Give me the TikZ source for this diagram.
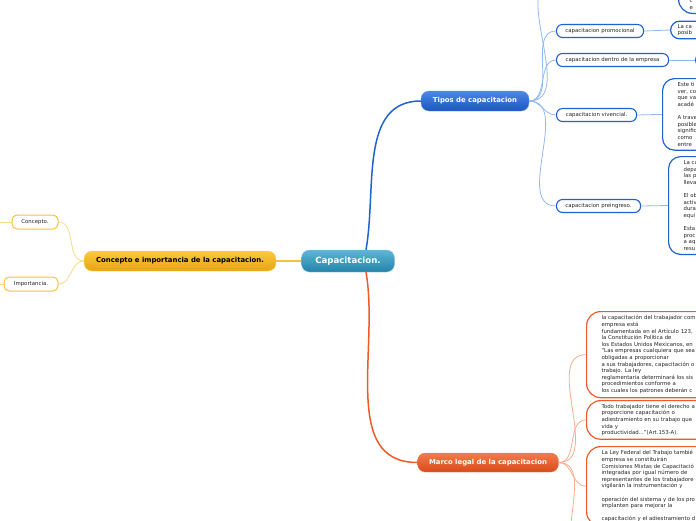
\documentclass[tikz,border=0pt]{standalone}
\usepackage{fontspec}
\setmainfont{DejaVu Sans}
\usetikzlibrary{positioning}

\definecolor{tealTop}{HTML}{5CB6D6}
\definecolor{tealBot}{HTML}{2283A8}
\definecolor{tealRim}{HTML}{8CCDE6}
\definecolor{blueTop}{HTML}{4A88E8}
\definecolor{blueBot}{HTML}{1B56BE}
\definecolor{blueRim}{HTML}{6C9EE8}
\definecolor{blueLine}{HTML}{1F62D0}
\definecolor{blueThin}{HTML}{92B8F0}
\definecolor{redTop}{HTML}{F47A4A}
\definecolor{redBot}{HTML}{D84B1C}
\definecolor{redLine}{HTML}{F05A28}
\definecolor{redThin}{HTML}{F8AE90}
\definecolor{yelTop}{HTML}{FBCA3C}
\definecolor{yelBot}{HTML}{E8A312}
\definecolor{yelRim}{HTML}{F8D66E}
\definecolor{yelLine}{HTML}{F8C040}
\definecolor{yelThin}{HTML}{FCDA88}
\definecolor{txtGray}{HTML}{262626}

\begin{document}
\begin{tikzpicture}[
    x=1pt, y=1pt,
    font=\fontsize{5.4}{6.6}\selectfont,
    mainbox/.style={rectangle, rounded corners=8pt, inner sep=0pt, text=white,
                    font=\fontsize{6.9}{8}\selectfont\bfseries},
    topicbox/.style={rectangle, draw=blueLine, line width=1.1pt, fill=white, rounded corners=6pt,
                     minimum height=13pt, inner sep=0pt, anchor=west, text=txtGray},
    smallbox/.style={rectangle, draw=yelLine, line width=1pt, fill=white, rounded corners=5pt,
                     minimum height=14pt, inner sep=0pt, text=txtGray},
    leafblue/.style={rectangle, draw=blueLine, line width=1.2pt, fill=white, rounded corners=12pt,
                     anchor=north west, align=left, text width=150pt, inner xsep=15pt, inner ysep=4pt,
                     text=txtGray},
    leafred/.style={leafblue, draw=redLine, rounded corners=14pt},
    mainline/.style={line width=1.5pt},
    thinline/.style={line width=0.8pt}
]
\useasboundingbox (0,0) rectangle (696,-520);
\begin{scope}
\clip (0,0) rectangle (696,-520);

% ---- Central topic ----
\node[mainbox, minimum width=93pt, minimum height=22pt, top color=tealTop, bottom color=tealBot,
      draw=tealRim, font=\fontsize{8.6}{10}\selectfont\bfseries] (cap) at (348,-261) {Capacitacion.};

% ---- Main branches ----
\node[mainbox, minimum width=108pt, minimum height=20pt, top color=blueTop, bottom color=blueBot,
      draw=blueRim] (tipos) at (475,-101) {Tipos de capacitacion};
\node[mainbox, minimum width=141pt, minimum height=19pt, top color=redTop, bottom color=redBot,
      draw=redTop] (legal) at (488,-462.5) {Marco legal de la capacitacion};
\node[mainbox, minimum width=192pt, minimum height=20pt, top color=yelTop, bottom color=yelBot,
      draw=yelRim, text=black] (concimp) at (180,-261) {Concepto e importancia de la capacitacion.};

% ---- Concepto / Importancia ----
\node[smallbox, minimum width=46pt] (concepto) at (35,-222) {Concepto.};
\node[smallbox, minimum width=54pt] (importancia) at (31,-284) {Importancia.};
\coordinate (conceptoOut) at (-5,-222);
\coordinate (importanciaOut) at (-5,-284);

% ---- Tipos de capacitacion ----
\node[topicbox, minimum width=87pt] (promo) at (556,-31) {capacitacion promocional};
\node[topicbox, minimum width=112pt] (dentro) at (556,-60) {capacitacion dentro de la empresa};
\node[topicbox, minimum width=80pt] (vivencial) at (556,-115) {capacitacion vivencial.};
\node[topicbox, minimum width=84pt] (preingreso) at (556,-206) {capacitacion preingreso.};
\coordinate (tiposUp) at (556,20);

\node[leafblue, anchor=south west, rounded corners=14pt, inner xsep=11pt] (leafTop) at (678,-14)
    {\mbox{}\\\mbox{}\\c\\e};
\node[leafblue, anchor=west, rounded corners=9pt, inner xsep=7pt, inner ysep=3pt] (leafPromo) at (670,-30)
    {La ca\\posib};
\node[leafblue, anchor=west, minimum height=14pt, rounded corners=7pt] (leafDentro) at (695,-60) {};
\node[leafblue] (leafViv) at (662,-78)
    {Este ti\\ver, co\\que va\\acadé\\[6.6pt]A trave\\posible\\signific\\como\\entre};
\node[leafblue] (leafPre) at (668,-156)
    {La ca\\depa\\las p\\lleva\\[6.6pt]El ob\\activ\\dura\\equi\\[6.6pt]Esta\\proc\\a aq\\resu};

% ---- Marco legal ----
\node[leafred] (legalA) at (586,-311)
    {la capacitación del trabajador com\\empresa está\\fundamentada en el Artículo 123,\\la Constitución Política de\\los Estados Unidos Mexicanos, en\\``Las empresas cualquiera que sea\\obligadas a proporcionar\\a sus trabajadores, capacitación o\\trabajo. La ley\\reglamentaria determinará los sis\\procedimientos conforme a\\los cuales los patrones deberán c};
\node[leafred, inner ysep=3.5pt] (legalB) at (586,-400)
    {Todo trabajador tiene el derecho a\\proporcione capacitación o\\adiestramiento en su trabajo que\\vida y\\productividad...''(Art.153-A).};
\node[leafred] (legalC) at (586,-446)
    {La Ley Federal del Trabajo tambié\\empresa se constituirán\\Comisiones Mixtas de Capacitació\\integradas por igual número de\\representantes de los trabajadore\\vigilarán la instrumentación y\\[6.6pt]operación del sistema y de los pro\\implanten para mejorar la\\[6.6pt]capacitación y el adiestramiento d};
\coordinate (legalDown) at (586,-560);

% ---- Connectors ----
\draw[mainline, blueLine] ([xshift=18pt]cap.north) to[out=80, in=180] (tipos.west);
\draw[mainline, redLine] ([xshift=18pt]cap.south) to[out=-80, in=180] (legal.west);
\draw[mainline, yelLine] (cap.west) -- (concimp.east);

\draw[thinline, yelThin] (concimp.west) to[out=180, in=0] (concepto.east);
\draw[thinline, yelThin] (concimp.west) to[out=180, in=0] (importancia.east);
\draw[thinline, yelThin] (concepto.west) -- (conceptoOut);
\draw[thinline, yelThin] (importancia.west) -- (importanciaOut);

\foreach \kid in {promo, dentro, vivencial, preingreso, tiposUp}
    \draw[thinline, blueThin] (tipos.east) to[out=0, in=180] (\kid.west);
\draw[thinline, blueThin] (promo.east) -- (leafPromo.west);
\draw[thinline, blueThin] (dentro.east) -- (leafDentro.west);
\draw[thinline, blueThin] (vivencial.east) -- (leafViv.west);
\draw[thinline, blueThin] (preingreso.east) -- (leafPre.west);

\foreach \kid in {legalA, legalB, legalC, legalDown}
    \draw[thinline, redThin] (legal.east) to[out=0, in=180] (\kid.west);

\end{scope}
\end{tikzpicture}
\end{document}
